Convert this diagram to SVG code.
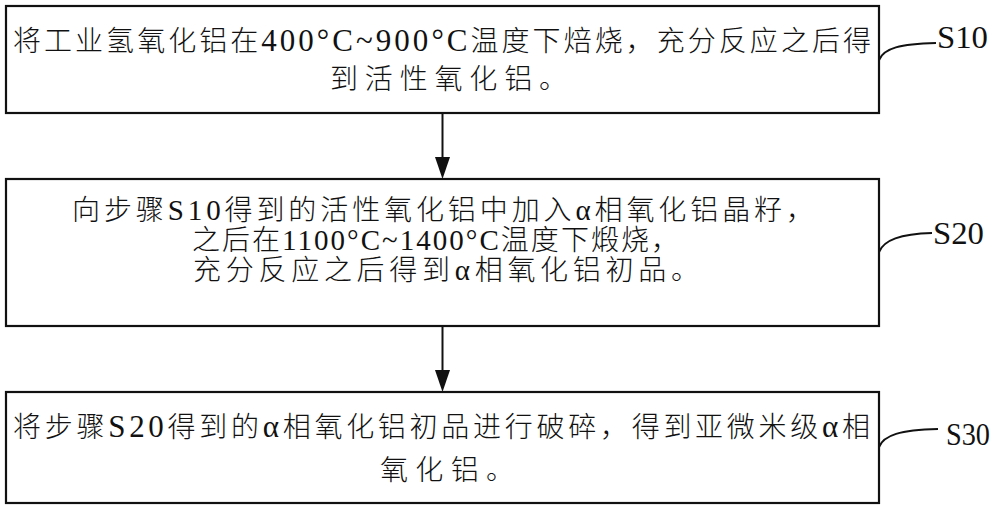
<svg xmlns="http://www.w3.org/2000/svg" width="1000" height="510" viewBox="0 0 1000 510">
<style>
.box{fill:#fff;stroke:#111;stroke-width:2.2}
.t{font-family:"Liberation Serif","Noto Sans CJK SC",serif;font-size:28px;font-weight:300;fill:#111}
.lat{font-size:31px;font-weight:400}
.lat2{font-size:29px;font-weight:400}
.lbl{font-family:"Liberation Serif",serif;font-size:31px;fill:#111}
.lead{fill:none;stroke:#111;stroke-width:2}
.conn{stroke:#111;stroke-width:2;fill:none}
</style>
<rect width="1000" height="510" fill="#fff"/>
<g id="connectors">
<line class="conn" x1="442.5" y1="113" x2="442.5" y2="157"/>
<path d="M435,157 L450,157 L442.5,179 Z" fill="#111"/>
<line class="conn" x1="442.5" y1="326" x2="442.5" y2="370"/>
<path d="M435,370 L450,370 L442.5,392 Z" fill="#111"/>
</g>
<g id="S10">
<rect class="box" x="6" y="6" width="873" height="107"/>
<text class="t" x="13" y="51" textLength="858" lengthAdjust="spacing">将工业氢氧化铝在<tspan class="lat">400°C~900°C</tspan>温度下焙烧，充分反应之后得</text>
<text class="t" x="330" y="89" textLength="237" lengthAdjust="spacing">到活性氧化铝。</text>
<path class="lead" d="M879,60 C884,48 900,44 936,43"/>
<text class="lbl" x="937" y="48" textLength="51" lengthAdjust="spacingAndGlyphs">S10</text>
</g>
<g id="S20">
<rect class="box" x="6" y="179" width="873" height="147"/>
<text class="t" x="72" y="220" textLength="742" lengthAdjust="spacing">向步骤<tspan class="lat2">S10</tspan>得到的活性氧化铝中加入<tspan class="lat2">α</tspan>相氧化铝晶籽，</text>
<text class="t" x="192" y="250" textLength="487" lengthAdjust="spacing">之后在<tspan class="lat2">1100°C~1400°C</tspan>温度下煅烧，</text>
<text class="t" x="193" y="280" textLength="506" lengthAdjust="spacing">充分反应之后得到<tspan class="lat2">α</tspan>相氧化铝初品。</text>
<path class="lead" d="M879,252 C884,240 900,234 932,233"/>
<text class="lbl" x="933" y="244" textLength="51" lengthAdjust="spacingAndGlyphs">S20</text>
</g>
<g id="S30">
<rect class="box" x="6" y="392" width="873" height="111"/>
<text class="t" x="13" y="437" textLength="857" lengthAdjust="spacing">将步骤<tspan class="lat">S20</tspan>得到的<tspan class="lat">α</tspan>相氧化铝初品进行破碎，得到亚微米级<tspan class="lat">α</tspan>相</text>
<text class="t" x="380" y="480" textLength="134" lengthAdjust="spacing">氧化铝。</text>
<path class="lead" d="M879,447 C884,435 900,430 938,429"/>
<text class="lbl" x="946" y="445" textLength="44" lengthAdjust="spacingAndGlyphs">S30</text>
</g>
</svg>
